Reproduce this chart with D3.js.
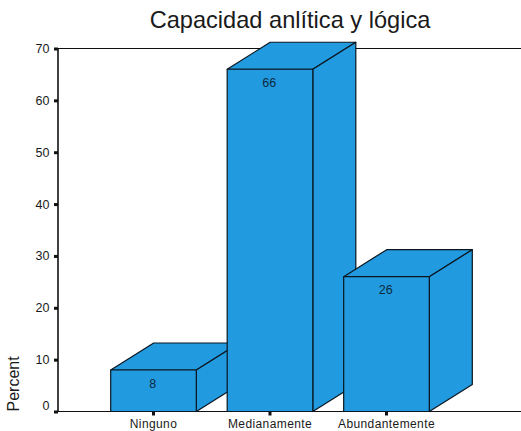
<!DOCTYPE html>
<html><head><meta charset="utf-8">
<script src="https://cdn.jsdelivr.net/npm/d3@7"></script>
<style>html,body{margin:0;padding:0;background:#fff}svg{display:block}text{font-family:"Liberation Sans",Arial,sans-serif;fill:#1a1a1a}</style>
</head><body><svg id="c" width="521" height="431"></svg>
<script>
const categories = ["Ninguno","Medianamente","Abundantemente"];
const percents = [8,66,26];
const yTicks = [0,10,20,30,40,50,60,70];
const titleText = "Capacidad anlítica y lógica";
const yLabel = "Percent";

const svg = d3.select("#c");
const x = d3.scaleBand().domain(categories).range([110.7,429.3]).paddingInner(0.265).paddingOuter(0);
const y = d3.scaleLinear().domain([0,70]).range([411.5,48.5]);
const dx = 43, dy = -27, fill = "#229ADF";

svg.append("text").attr("x",290).attr("y",28).attr("text-anchor","middle").attr("font-size",23.6).text(titleText);
svg.append("text").attr("transform","translate(19,411.5) rotate(-90)").attr("font-size",16).text(yLabel);

svg.append("line").attr("x1",58).attr("x2",521).attr("y1",y(70)).attr("y2",y(70)).attr("stroke","#111").attr("stroke-width",1);

const yAxis = d3.axisLeft(y).tickValues(yTicks).tickSize(4).tickPadding(4.5).tickFormat(d3.format("d"));
const ya = svg.append("g").attr("transform","translate(58,0)").call(yAxis);
ya.select(".domain").attr("stroke","#111").attr("stroke-width",1.6).attr("d",`M0,${y(70)}V${y(0)}`);
ya.selectAll(".tick line").attr("stroke","#111").attr("stroke-width",3);
ya.selectAll("text").attr("font-size",12.5).attr("font-family",'"Liberation Sans"').attr("fill","#1a1a1a");
ya.selectAll(".tick").filter(d=>d===0).select("text").attr("dy","-0.15em");

const xAxis = d3.axisBottom(x).tickSize(4).tickPadding(4.4);
const xa = svg.append("g").attr("transform",`translate(0,${y(0)})`).call(xAxis);
xa.select(".domain").attr("stroke","#111").attr("stroke-width",1).attr("d","M58,0H521");
xa.selectAll(".tick line").attr("stroke","#111").attr("stroke-width",3);
xa.selectAll("text").attr("font-size",12).attr("letter-spacing",0.4).attr("font-family",'"Liberation Sans"').attr("fill","#1a1a1a");

const bars = svg.append("g").selectAll("g").data(percents).join("g");
const st = s => s.attr("fill",fill).attr("stroke","#0a1620").attr("stroke-width",1.2).attr("stroke-linejoin","round");
bars.append("path").call(st).attr("d",(d,i)=>{
  const l=x(categories[i]), r=l+x.bandwidth(), t=y(d);
  return `M${l},${t}L${l+dx},${t+dy}H${r+dx}L${r},${t}Z`;
});
bars.append("path").call(st).attr("d",(d,i)=>{
  const r=x(categories[i])+x.bandwidth(), t=y(d), b=y(0);
  return `M${r},${t}L${r+dx},${t+dy}V${b+dy}L${r},${b}Z`;
});
bars.append("rect").call(st).attr("x",(d,i)=>x(categories[i])).attr("y",d=>y(d)).attr("width",x.bandwidth()).attr("height",d=>y(0)-y(d));
bars.append("text").attr("x",(d,i)=>x(categories[i])+x.bandwidth()/2-0.7).attr("y",d=>y(d)+17.5).attr("text-anchor","middle").attr("font-size",12.5).style("fill","#0c2a40").text(d=>d);
</script></body></html>
